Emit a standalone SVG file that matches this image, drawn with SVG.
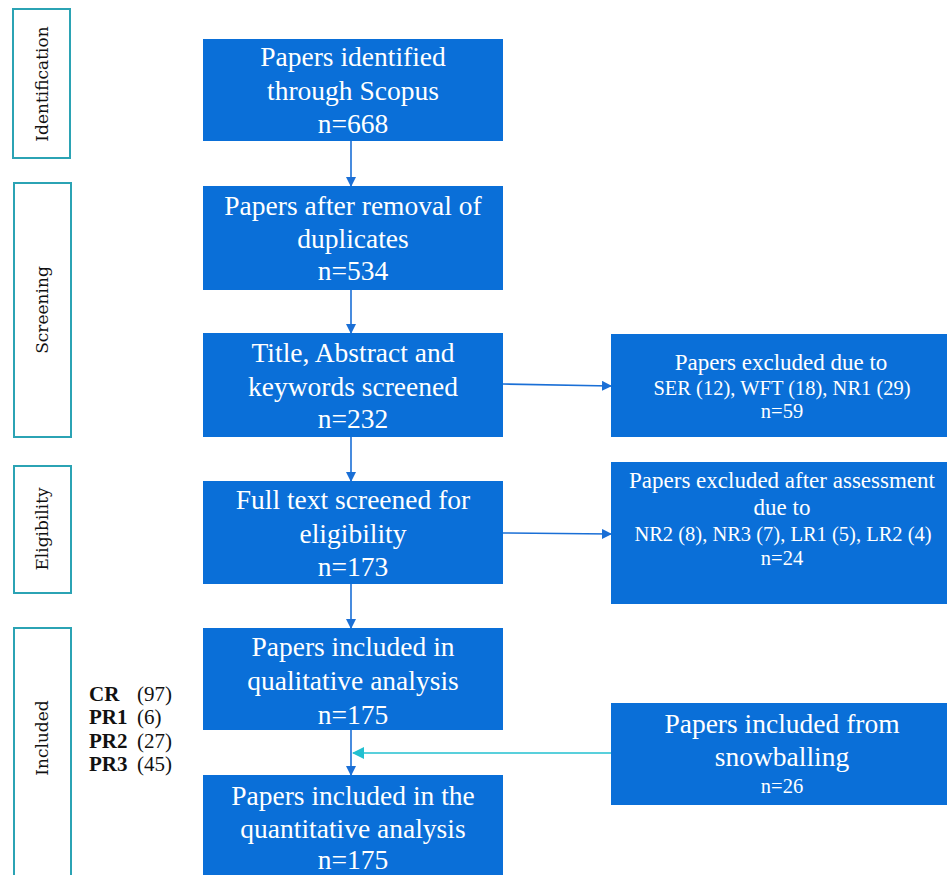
<svg xmlns="http://www.w3.org/2000/svg" width="947" height="875" viewBox="0 0 947 875">
<defs>
<style>
.box{fill:#0A6FD8}
.stage{fill:#fff;stroke:#2BA3B4;stroke-width:2}
.t{font-family:"Liberation Serif","Times New Roman",serif;fill:#fff;text-anchor:middle}
.big{font-size:27.5px}
.mid{font-size:23px}
.sm{font-size:20.5px}
.st{font-family:"DejaVu Serif","Liberation Serif",serif;font-size:17px;fill:#111;text-anchor:middle}
.lst{font-family:"Liberation Serif","Times New Roman",serif;font-size:21px;fill:#111}
.c{stroke:#1A6FD6;stroke-width:1.6;fill:none}
.cy{stroke:#22C0D0;stroke-width:1.6;fill:none}
</style>
<marker id="ab" markerWidth="10" markerHeight="10" refX="9" refY="5" orient="auto" markerUnits="userSpaceOnUse">
<path d="M0,0 L10,5 L0,10 Z" fill="#1A6FD6"/>
</marker>
<marker id="ac" markerWidth="12" markerHeight="12" refX="11" refY="6" orient="auto" markerUnits="userSpaceOnUse">
<path d="M0,0 L12,6 L0,12 Z" fill="#22C0D0"/>
</marker>
</defs>
<rect width="947" height="875" fill="#fff"/>

<g id="stage-identification"><rect class="stage" x="13" y="9" width="57" height="149"/><text class="st" transform="translate(48,84) rotate(-90)">Identification</text></g>
<g id="stage-screening"><rect class="stage" x="14" y="183" width="57" height="254"/><text class="st" transform="translate(48,310) rotate(-90)">Screening</text></g>
<g id="stage-eligibility"><rect class="stage" x="14" y="466" width="57" height="127"/><text class="st" transform="translate(48,529) rotate(-90)">Eligibility</text></g>
<g id="stage-included"><rect class="stage" x="14" y="628" width="57" height="260"/><text class="st" transform="translate(48,738) rotate(-90)">Included</text></g>

<g id="categories">
<text class="lst" x="89" y="701"><tspan font-weight="bold">CR</tspan></text><text class="lst" x="137" y="701">(97)</text>
<text class="lst" x="89" y="724"><tspan font-weight="bold">PR1</tspan></text><text class="lst" x="137" y="724">(6)</text>
<text class="lst" x="89" y="748"><tspan font-weight="bold">PR2</tspan></text><text class="lst" x="137" y="748">(27)</text>
<text class="lst" x="89" y="771"><tspan font-weight="bold">PR3</tspan></text><text class="lst" x="137" y="771">(45)</text>
</g>

<g id="n1"><rect class="box" x="203" y="39" width="300" height="102"/>
<text class="t big" x="353" y="66">Papers identified</text><text class="t big" x="353" y="100">through Scopus</text><text class="t big" x="353" y="133">n=668</text></g>
<g id="n2"><rect class="box" x="203" y="186" width="300" height="104"/>
<text class="t big" x="353" y="215">Papers after removal of</text><text class="t big" x="353" y="248">duplicates</text><text class="t big" x="353" y="280">n=534</text></g>
<g id="n3"><rect class="box" x="203" y="333" width="300" height="104"/>
<text class="t big" x="353" y="362">Title, Abstract and</text><text class="t big" x="353" y="396">keywords screened</text><text class="t big" x="353" y="428">n=232</text></g>
<g id="n4"><rect class="box" x="203" y="481" width="300" height="103"/>
<text class="t big" x="353" y="509">Full text screened for</text><text class="t big" x="353" y="543">eligibility</text><text class="t big" x="353" y="576">n=173</text></g>
<g id="n5"><rect class="box" x="203" y="628" width="300" height="102"/>
<text class="t big" x="353" y="656">Papers included in</text><text class="t big" x="353" y="690">qualitative analysis</text><text class="t big" x="353" y="724">n=175</text></g>
<g id="n6"><rect class="box" x="203" y="775" width="300" height="110"/>
<text class="t big" x="353" y="805">Papers included in the</text><text class="t big" x="353" y="838">quantitative analysis</text><text class="t big" x="353" y="869">n=175</text></g>

<g id="x1"><rect class="box" x="611" y="334" width="340" height="103"/>
<text class="t mid" x="781" y="370">Papers excluded due to</text><text class="t sm" x="782" y="395">SER (12), WFT (18), NR1 (29)</text><text class="t sm" x="782" y="418">n=59</text></g>
<g id="x2"><rect class="box" x="611" y="462" width="340" height="142"/>
<text class="t mid" x="782" y="488">Papers excluded after assessment</text><text class="t mid" x="782" y="515">due to</text><text class="t sm" x="783" y="541">NR2 (8), NR3 (7), LR1 (5), LR2 (4)</text><text class="t sm" x="782" y="565">n=24</text></g>
<g id="s1"><rect class="box" x="611" y="703" width="340" height="102"/>
<text class="t big" x="782" y="733">Papers included from</text><text class="t big" x="782" y="766">snowballing</text><text class="t sm" x="782" y="793">n=26</text></g>

<g id="connectors">
<line class="c" x1="351" y1="141" x2="351" y2="186" marker-end="url(#ab)"/>
<line class="c" x1="351" y1="290" x2="351" y2="333" marker-end="url(#ab)"/>
<line class="c" x1="351" y1="437" x2="351" y2="481" marker-end="url(#ab)"/>
<line class="c" x1="351" y1="584" x2="351" y2="628" marker-end="url(#ab)"/>
<line class="c" x1="351" y1="730" x2="351" y2="775" marker-end="url(#ab)"/>
<line class="c" x1="503" y1="384" x2="611" y2="386" marker-end="url(#ab)"/>
<line class="c" x1="503" y1="533" x2="611" y2="534" marker-end="url(#ab)"/>
<line class="cy" x1="611" y1="753" x2="353" y2="753" marker-end="url(#ac)"/>
</g>
</svg>
